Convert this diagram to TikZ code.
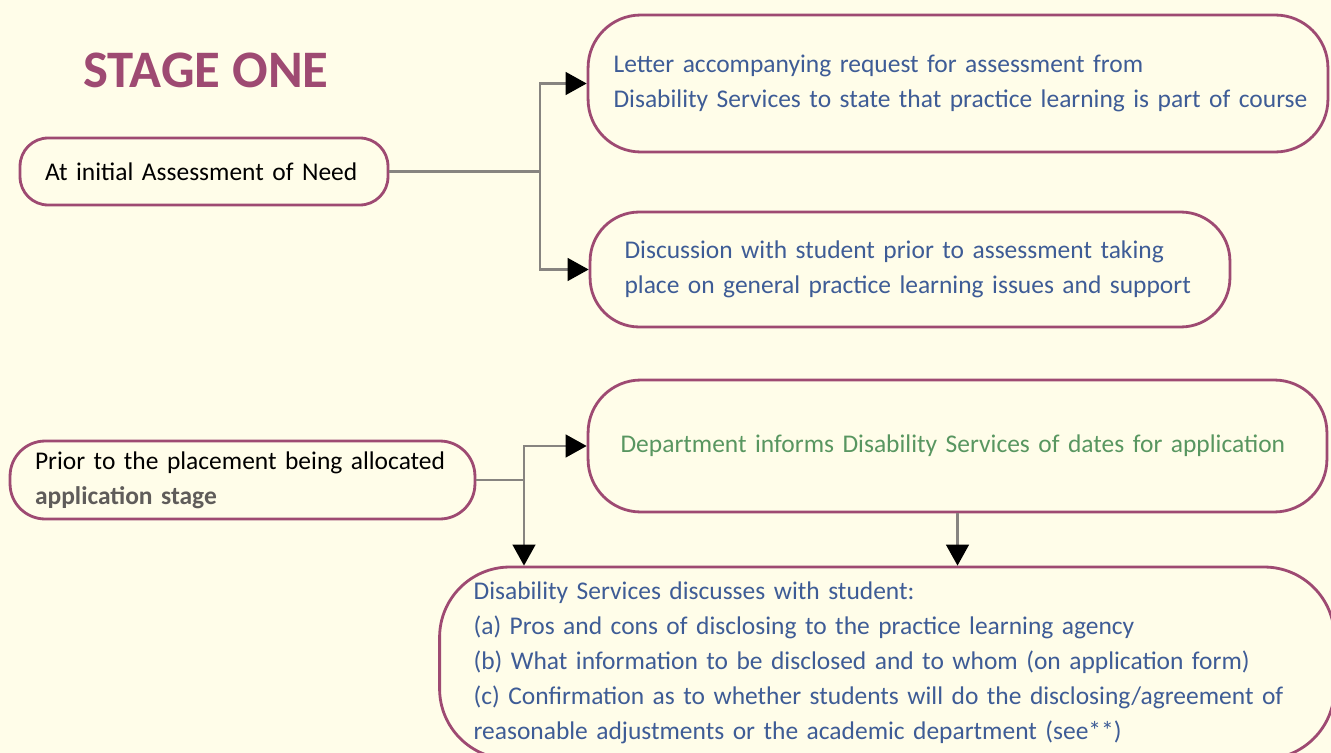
\documentclass[tikz,border=0pt]{standalone}
\usepackage{fontspec}
\setmainfont{Carlito}
\usetikzlibrary{arrows.meta,positioning}
\definecolor{paper}{RGB}{255,253,233}
\definecolor{mauve}{RGB}{158,74,114}
\definecolor{wire}{RGB}{135,132,128}
\definecolor{inkblue}{RGB}{62,92,150}
\definecolor{inkgreen}{RGB}{88,150,96}
\tikzset{
	stagebox/.style={draw=mauve,line width=1.6pt,align=left,inner ysep=0pt,font=\fontsize{14.5}{20}\selectfont},
	textshift/.style={execute at begin node={\leftskip=#1}},
	link/.style={draw=wire,line width=1.2pt},
	-tri/.style={-{Triangle[length=12pt,width=13pt,fill=black,color=black]}},
	heading/.style={font=\fontsize{30}{34}\bfseries,text=mauve}
}
\begin{document}
\begin{tikzpicture}[x=0.02cm,y=-0.02cm]
			\fill[paper] (0,0) rectangle (1331,753);
			\useasboundingbox (0,0) rectangle (1331,753);
			\node[heading] (title) at (206,70) {STAGE ONE};
			\node[stagebox,rounded corners=16pt,minimum width=7.36cm,minimum height=1.34cm,text width=6.6cm,inner xsep=0.38cm,textshift=0.12cm] (need) at (204,171.5) {At initial Assessment of Need};
			\node[stagebox,rounded corners=30pt,minimum width=14.8cm,minimum height=2.74cm,text width=14.1cm,inner xsep=0.35cm,text=inkblue,textshift=0.16cm] (letter) at (958,83.5) {Letter accompanying request for assessment from\\Disability Services to state that practice learning is part of course};
			\node[stagebox,rounded corners=28pt,minimum width=12.8cm,minimum height=2.3cm,text width=11.7cm,inner xsep=0.55cm,text=inkblue,textshift=0.14cm] (talk) at (910,269.5) {Discussion with student prior to assessment taking\\place on general practice learning issues and support};
			\node[stagebox,rounded corners=20pt,minimum width=9.3cm,minimum height=1.56cm,text width=8.7cm,inner xsep=0.3cm,textshift=0.2cm] (prior) at (242.5,480) {Prior to the placement being allocated\\{\bfseries\color{wire!70!black}application stage}};
			\node[stagebox,rounded corners=30pt,minimum width=14.78cm,minimum height=2.64cm,text width=13.8cm,inner xsep=0.49cm,text=inkgreen,textshift=0.16cm] (dept) at (957.5,446) {Department informs Disability Services of dates for application};
			\node[stagebox,rounded corners=40pt,minimum width=17.9cm,minimum height=3.84cm,text width=16.9cm,inner xsep=0.5cm,text=inkblue,textshift=0.18cm] (disc) at (887,663) {Disability Services discusses with student:\\(a) Pros and cons of disclosing to the practice learning agency\\(b) What information to be disclosed and to whom (on application form)\\(c) Confirmation as to whether students will do the disclosing/agreement of\\reasonable adjustments or the academic department (see**)};
			\coordinate (fork1) at (540,171.5);
			\coordinate (fork2) at (524,480);

			\draw[link] (need.east) -- (fork1);
			\draw[link,-tri] (fork1) |- (letter.west);
			\draw[link,-tri] (fork1) |- (talk.west);
			\draw[link] (prior.east) -- (fork2);
			\draw[link,-tri] (fork2) |- (dept.west);
			\draw[link,-tri] (fork2) -- (fork2 |- disc.north);
			\draw[link,-tri] (dept.south) -- (dept.south |- disc.north);
		\end{tikzpicture}
\end{document}
